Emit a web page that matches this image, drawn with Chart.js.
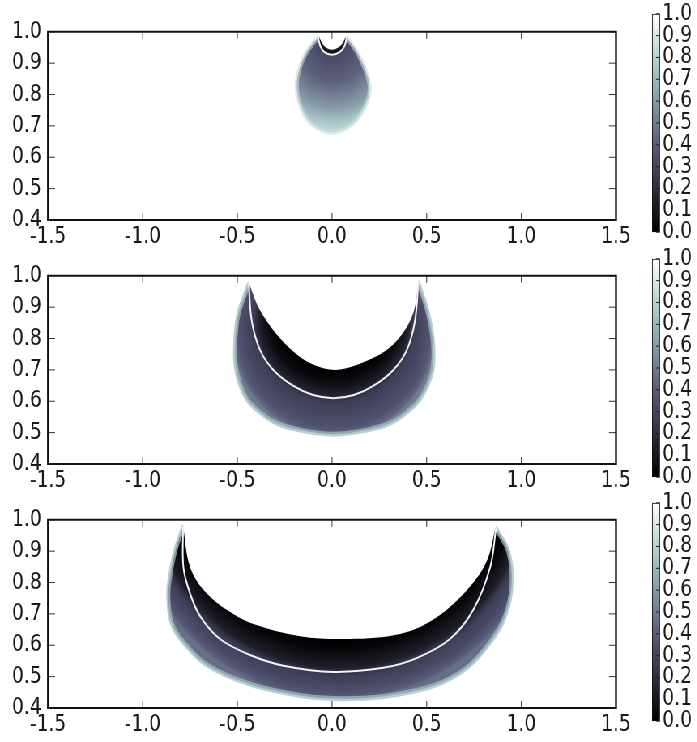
<!DOCTYPE html>
<html>
<head>
<meta charset="utf-8">
<script src="https://cdn.jsdelivr.net/npm/chart.js@4.4.1/dist/chart.umd.min.js"></script>
<style>
  body { margin: 0; background: #fff; overflow: hidden; }
  #fig { position: relative; width: 861px; height: 742px; transform: scaleX(0.81); transform-origin: 0 0; }
  #fig canvas { position: absolute; }
</style>
</head>
<body>
<div id="fig">
  <canvas id="p1" width="790" height="242" style="left:0;top:10px"></canvas>
  <canvas id="p2" width="790" height="242" style="left:0;top:254px"></canvas>
  <canvas id="p3" width="790" height="242" style="left:0;top:498px"></canvas>
  <canvas id="cb1" width="71" height="252" style="left:790px;top:-3px"></canvas>
  <canvas id="cb2" width="71" height="252" style="left:790px;top:242px"></canvas>
  <canvas id="cb3" width="71" height="252" style="left:790px;top:486px"></canvas>
</div>
<script>
// tick labels
const xTicks = [-1.5, -1.0, -0.5, 0.0, 0.5, 1.0, 1.5];
const yTicks = [0.4, 0.5, 0.6, 0.7, 0.8, 0.9, 1.0];
const cbTicks = [0.0, 0.1, 0.2, 0.3, 0.4, 0.5, 0.6, 0.7, 0.8, 0.9, 1.0];

// panel 1: small drop
const p1OuterX = [-0.073, -0.105, -0.135, -0.165, -0.183, -0.186, -0.178, -0.155, -0.115, -0.06, 0.0, 0.06, 0.115, 0.16, 0.19, 0.20, 0.19, 0.165, 0.133, 0.105, 0.077];
const p1OuterY = [0.982, 0.96, 0.935, 0.895, 0.855, 0.82, 0.785, 0.745, 0.71, 0.688, 0.678, 0.688, 0.71, 0.745, 0.785, 0.82, 0.855, 0.895, 0.935, 0.96, 0.982];
const p1ContourX = [-0.073, -0.062, -0.04, 0.0, 0.04, 0.066, 0.077];
const p1ContourY = [0.982, 0.955, 0.935, 0.927, 0.935, 0.955, 0.982];
const p1InnerX = [-0.073, -0.05, -0.028, 0.0, 0.028, 0.054, 0.077];
const p1InnerY = [0.99, 0.962, 0.948, 0.943, 0.948, 0.962, 0.99];

// panel 2: medium crescent
const p2OuterX = [-0.44, -0.495, -0.512, -0.503, -0.45, -0.38, -0.292, -0.169, 0.007, 0.183, 0.306, 0.395, 0.465, 0.527, 0.535, 0.509, 0.456];
const p2OuterY = [0.972, 0.876, 0.773, 0.691, 0.608, 0.565, 0.53, 0.508, 0.495, 0.508, 0.53, 0.565, 0.608, 0.691, 0.773, 0.876, 0.977];
const p2ContourX = [-0.44, -0.424, -0.38, -0.31, -0.204, -0.1, 0.007, 0.115, 0.218, 0.324, 0.395, 0.438, 0.456];
const p2ContourY = [0.972, 0.856, 0.763, 0.70, 0.649, 0.62, 0.61, 0.62, 0.649, 0.70, 0.763, 0.856, 0.977];
const p2InnerX = [-0.44, -0.395, -0.345, -0.285, -0.222, -0.15, -0.07, 0.01, 0.09, 0.17, 0.25, 0.306, 0.365, 0.412, 0.44, 0.456];
const p2InnerY = [0.98, 0.907, 0.856, 0.808, 0.768, 0.733, 0.71, 0.70, 0.708, 0.725, 0.748, 0.772, 0.81, 0.856, 0.907, 0.985];

// panel 3: wide crescent
const p3OuterX = [-0.787, -0.829, -0.856, -0.865, -0.847, -0.785, -0.662, -0.433, -0.169, 0.007, 0.271, 0.535, 0.711, 0.835, 0.914, 0.949, 0.931, 0.866];
const p3OuterY = [0.976, 0.899, 0.817, 0.755, 0.672, 0.61, 0.538, 0.476, 0.44, 0.43, 0.437, 0.471, 0.528, 0.61, 0.693, 0.796, 0.899, 0.972];
const p3ContourX = [-0.787, -0.785, -0.75, -0.697, -0.592, -0.433, -0.257, 0.007, 0.271, 0.447, 0.623, 0.746, 0.835, 0.866];
const p3ContourY = [0.976, 0.848, 0.765, 0.693, 0.62, 0.569, 0.535, 0.515, 0.528, 0.559, 0.62, 0.713, 0.848, 0.972];
const p3InnerX = [-0.787, -0.759, -0.715, -0.644, -0.556, -0.433, -0.169, 0.095, 0.359, 0.535, 0.711, 0.817, 0.866];
const p3InnerY = [0.984, 0.868, 0.806, 0.755, 0.713, 0.672, 0.629, 0.62, 0.636, 0.682, 0.775, 0.868, 0.98];

// the figure is squeezed sideways like the original image
const SQUEEZE = 0.81;
const font = { family: 'DejaVu Sans', size: 23 };
const textColor = '#1a1a1a';

// matplotlib "bone" colormap
function bone(v, a) {
  function seg(pts) {
    for (let i = 1; i < pts.length; i++) {
      if (v <= pts[i][0]) {
        const [x0, y0] = pts[i - 1], [x1, y1] = pts[i];
        return y0 + (y1 - y0) * (v - x0) / (x1 - x0);
      }
    }
    return 1;
  }
  const r = seg([[0, 0], [0.746, 0.653], [1, 1]]);
  const g = seg([[0, 0], [0.365, 0.319], [0.746, 0.778], [1, 1]]);
  const b = seg([[0, 0], [0.365, 0.444], [1, 1]]);
  return 'rgba(' + Math.round(r * 255) + ',' + Math.round(g * 255) + ',' + Math.round(b * 255) + ',' + (a == null ? 1 : a) + ')';
}

// shading inside each band (two nested circles of a radial gradient, in data units)
const shade1 = { inner: [0.005, 0.988, 0.006], outer: [0.005, 0.895, 0.232],
  stops: [[0, 0.28], [0.2, 0.33], [0.45, 0.42], [0.7, 0.6], [0.85, 0.75], [1, 0.88]] };
const shade2 = { inner: [0.009, 0.892, 0.192], outer: [0.009, 0.808, 0.322],
  stops: [[0, 0], [0.2, 0.06], [0.38, 0.16], [0.42, 0.22], [0.5, 0.28], [0.85, 0.36], [0.95, 0.42], [1, 0.5]] };
const shade3 = { inner: [0.037, 1.173, 0.56], outer: [0.037, 1.0866, 0.662],
  stops: [[0, 0], [0.2, 0.05], [0.45, 0.14], [0.52, 0.22], [0.6, 0.28], [0.85, 0.35], [0.95, 0.4], [1, 0.46]] };

function shadeFill(spec) {
  return function (c) {
    const chart = c.chart;
    if (!chart.chartArea) return 'rgba(0,0,0,0)';
    const xs = chart.scales.x, ys = chart.scales.y;
    const off = document.createElement('canvas');
    off.width = chart.width;
    off.height = chart.height;
    const g = off.getContext('2d');
    g.scale(1 / SQUEEZE, 1);
    const circ = ([cx, cy, r]) => [xs.getPixelForValue(cx) * SQUEEZE, ys.getPixelForValue(cy),
      ys.getPixelForValue(cy - r) - ys.getPixelForValue(cy)];
    const [x0, y0, r0] = circ(spec.inner);
    const [x1, y1, r1] = circ(spec.outer);
    const grad = g.createRadialGradient(x0, y0, r0, x1, y1, r1);
    spec.stops.forEach(([t, v]) => grad.addColorStop(t, bone(v)));
    g.fillStyle = grad;
    g.fillRect(0, 0, off.width * SQUEEZE, off.height);
    return chart.ctx.createPattern(off, 'no-repeat');
  };
}

function pts(xs, ys) {
  return xs.map((x, i) => ({ x: x, y: ys[i] }));
}

// frame and inward ticks, like matplotlib
const frameTicks = {
  id: 'frameTicks',
  afterDatasetsDraw(chart) {
    const { ctx, chartArea: a, scales } = chart;
    const len = 7;
    ctx.save();
    ctx.strokeStyle = '#333';
    ctx.lineWidth = 1;
    ctx.beginPath();
    scales.x.ticks.forEach(t => {
      const px = scales.x.getPixelForValue(t.value);
      ctx.moveTo(px, a.bottom); ctx.lineTo(px, a.bottom - len);
      ctx.moveTo(px, a.top); ctx.lineTo(px, a.top + len);
    });
    scales.y.ticks.forEach(t => {
      const py = scales.y.getPixelForValue(t.value);
      ctx.moveTo(a.left, py); ctx.lineTo(a.left + len / SQUEEZE, py);
      ctx.moveTo(a.right, py); ctx.lineTo(a.right - len / SQUEEZE, py);
    });
    ctx.stroke();
    ctx.strokeStyle = '#111';
    ctx.lineWidth = 2;
    ctx.beginPath();
    ctx.moveTo(a.left, a.top); ctx.lineTo(a.right, a.top);
    ctx.moveTo(a.left, a.bottom); ctx.lineTo(a.right, a.bottom);
    ctx.stroke();
    ctx.lineWidth = 2.4;
    ctx.beginPath();
    ctx.moveTo(a.left, a.top - 1); ctx.lineTo(a.left, a.bottom + 1);
    ctx.moveTo(a.right, a.top - 1); ctx.lineTo(a.right, a.bottom + 1);
    ctx.stroke();
    ctx.restore();
  }
};

const cbTickMarks = {
  id: 'cbTickMarks',
  afterDatasetsDraw(chart) {
    const { ctx, chartArea: a, scales } = chart;
    ctx.save();
    ctx.strokeStyle = '#222';
    ctx.lineWidth = 1;
    ctx.beginPath();
    scales.y.ticks.forEach(t => {
      const py = scales.y.getPixelForValue(t.value);
      ctx.moveTo(a.right, py); ctx.lineTo(a.right - 4 / SQUEEZE, py);
    });
    ctx.stroke();
    ctx.restore();
  }
};

function setTicks(list) {
  return function (scale) { scale.ticks = list.map(v => ({ value: v })); };
}

function drawPanel(id, inner, contour, outer, shade, rim, contourFill) {
  new Chart(document.getElementById(id), {
    type: 'line',
    data: {
      datasets: [
        { data: inner, borderWidth: 0, borderColor: '#fff', backgroundColor: '#fff', fill: 'shape' },
        { data: contour, borderColor: '#f3f1fa', borderWidth: 2,
          backgroundColor: contourFill || 'rgba(0,0,0,0)', fill: contourFill ? 'shape' : false },
        { data: outer, borderColor: rim, borderWidth: 5, backgroundColor: shadeFill(shade),
          pointBackgroundColor: 'rgba(0,0,0,0)', fill: 'shape' }
      ]
    },
    options: {
      responsive: false,
      animation: false,
      events: [],
      layout: { padding: { top: 16, right: 29.5, left: 0, bottom: 0 } },
      plugins: { legend: { display: false }, tooltip: { enabled: false } },
      elements: {
        point: { radius: 0 },
        line: { tension: 0.35, borderJoinStyle: 'round', borderCapStyle: 'round' }
      },
      scales: {
        x: {
          type: 'linear', min: -1.5, max: 1.5,
          afterBuildTicks: setTicks(xTicks),
          afterFit: s => { s.height = 32; },
          grid: { display: false, drawTicks: false },
          border: { display: false },
          ticks: { autoSkip: false, maxRotation: 0, minRotation: 0, padding: 3, font: font, color: textColor,
            callback: v => v.toFixed(1) }
        },
        y: {
          type: 'linear', min: 0.4, max: 1.0,
          afterBuildTicks: setTicks(yTicks),
          afterFit: s => { s.width = 59.3; },
          grid: { display: false, drawTicks: false },
          border: { display: false },
          ticks: { autoSkip: false, padding: 8, font: font, color: textColor,
            callback: v => v.toFixed(1) }
        }
      }
    },
    plugins: [frameTicks]
  });
}

function drawColorbar(id) {
  new Chart(document.getElementById(id), {
    type: 'bar',
    data: {
      labels: [''],
      datasets: [{
        data: [1],
        backgroundColor: c => {
          const a = c.chart.chartArea;
          if (!a) return '#888';
          const g = c.chart.ctx.createLinearGradient(0, a.bottom, 0, a.top);
          cbTicks.forEach(v => g.addColorStop(v, bone(v)));
          return g;
        },
        borderColor: '#111',
        borderWidth: 1.2,
        borderSkipped: false,
        barPercentage: 1,
        categoryPercentage: 1
      }]
    },
    options: {
      responsive: false,
      animation: false,
      events: [],
      layout: { padding: { top: 16, bottom: 16, left: 15, right: 0 } },
      plugins: { legend: { display: false }, tooltip: { enabled: false } },
      scales: {
        x: { display: false },
        y: {
          position: 'right', min: 0, max: 1,
          afterBuildTicks: setTicks(cbTicks),
          afterFit: s => { s.width = 46.2; },
          grid: { display: false, drawTicks: false },
          border: { display: false },
          ticks: { autoSkip: false, padding: 3, font: font, color: textColor,
            callback: v => v.toFixed(1) }
        }
      }
    },
    plugins: [cbTickMarks]
  });
}

drawPanel('p1', pts(p1InnerX, p1InnerY), pts(p1ContourX, p1ContourY), pts(p1OuterX, p1OuterY),
  shade1, bone(0.85, 0.6), '#15151f');
drawPanel('p2', pts(p2InnerX, p2InnerY), pts(p2ContourX, p2ContourY), pts(p2OuterX, p2OuterY),
  shade2, bone(0.72, 0.75), null);
drawPanel('p3', pts(p3InnerX, p3InnerY), pts(p3ContourX, p3ContourY), pts(p3OuterX, p3OuterY),
  shade3, bone(0.72, 0.75), null);
drawColorbar('cb1');
drawColorbar('cb2');
drawColorbar('cb3');
</script>
</body>
</html>
